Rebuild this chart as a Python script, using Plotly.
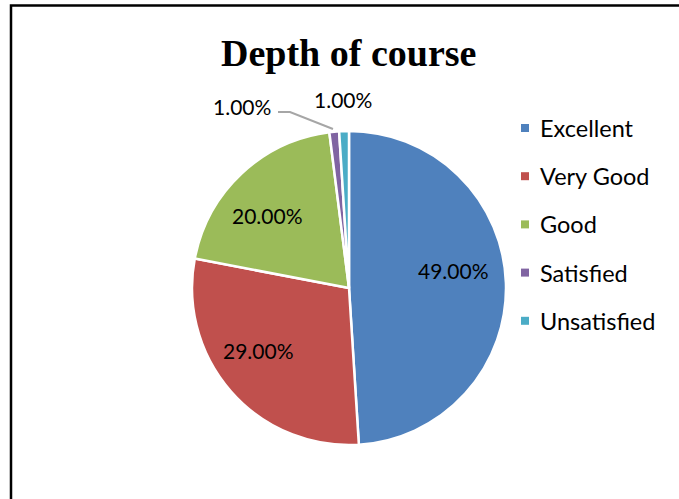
import plotly.graph_objects as go

# Survey responses for "Depth of course"
categories = ["Excellent", "Very Good", "Good", "Satisfied", "Unsatisfied"]
shares = [49.0, 29.0, 20.0, 1.0, 1.0]
colors = ["#4F81BD", "#C0504D", "#9BBB59", "#8064A2", "#4BACC6"]

# Label anchor points (pixels in the 679x499 canvas) for each slice's value text
label_px = [(454, 270), (258, 350), (267, 215), (242, 106), (343, 100)]

W, H = 679, 499
FONT = "Lato, Carlito, Calibri, sans-serif"


def px_x(v):
    return v / W


def px_y(v):
    return 1 - v / H


fig = go.Figure()

fig.add_trace(go.Pie(
    labels=categories,
    values=shares,
    sort=False,
    direction="clockwise",
    rotation=0,
    marker=dict(colors=colors, line=dict(color="white", width=2.5)),
    textinfo="none",
    hoverinfo="label+percent",
    showlegend=False,
    domain=dict(x=[px_x(192), px_x(506)], y=[px_y(445), px_y(131)]),
))

# Value labels formatted from the data
for (px, py), v in zip(label_px, shares):
    fig.add_annotation(
        x=px_x(px), y=px_y(py), xref="paper", yref="paper",
        text=f"{v:.2f}%", showarrow=False,
        font=dict(family=FONT, size=21, color="black"),
        xanchor="center", yanchor="middle",
    )

# Title
fig.add_annotation(
    x=px_x(349), y=px_y(53), xref="paper", yref="paper",
    text="<b>Depth of course</b>", showarrow=False,
    font=dict(family="Liberation Serif, Times New Roman, serif", size=38, color="black"),
    xanchor="center", yanchor="middle",
)

shapes = [
    # leader line for the small "Satisfied" slice
    dict(type="path", xref="paper", yref="paper",
         path=f"M {px_x(278)} {px_y(112)} L {px_x(290)} {px_y(112)} L {px_x(333)} {px_y(129)}",
         line=dict(color="#A6A6A6", width=2)),
    # chart frame (left and top edges as one open path)
    dict(type="path", xref="paper", yref="paper",
         path=f"M {px_x(11)} 0 L {px_x(11)} {px_y(5.5)} L {px_x(679)} {px_y(5.5)}",
         line=dict(color="black", width=2.5)),
]

# Legend: colour swatch + category name, one row per category
LEG_TOP, LEG_STEP, SW = 128, 48.2, 8
for i, (name, col) in enumerate(zip(categories, colors)):
    cy = LEG_TOP + i * LEG_STEP
    shapes.append(dict(
        type="rect", xref="paper", yref="paper",
        x0=px_x(521), x1=px_x(521 + SW), y0=px_y(cy + SW / 2), y1=px_y(cy - SW / 2),
        fillcolor=col, line=dict(width=0),
    ))
    fig.add_annotation(
        x=px_x(538), y=px_y(cy), xref="paper", yref="paper",
        text=name, showarrow=False,
        font=dict(family=FONT, size=23.5, color="black"),
        xanchor="left", yanchor="middle",
    )

fig.update_layout(
    width=W, height=H,
    margin=dict(l=0, r=0, t=0, b=0),
    paper_bgcolor="white", plot_bgcolor="white",
    shapes=shapes,
    showlegend=False,
)

fig.write_html("out.html", config={"displayModeBar": False})
